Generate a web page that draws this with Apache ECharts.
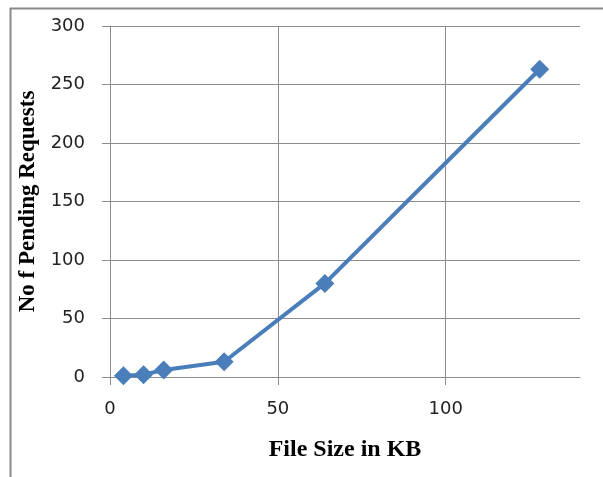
<!DOCTYPE html>
<html>
<head>
<meta charset="utf-8">
<script src="https://cdn.jsdelivr.net/npm/echarts@6/dist/echarts.min.js"></script>
<style>html,body{margin:0;padding:0;background:#fff;}#c{width:603px;height:477px;}</style>
</head>
<body>
<div id="c"></div>
<script>
var fileSizes = [4, 10, 16, 34, 64, 128];
var pending = [1, 2, 6, 13, 80, 263];
var xTicks = [0, 50, 100];
var xTitle = 'File Size in KB';
var yTitle = 'No f Pending Requests';

var chart = echarts.init(document.getElementById('c'), null, {renderer: 'canvas'});
var pts = fileSizes.map(function (x, i) { return [x, pending[i]]; });
var gridColor = '#8c8c8c';
chart.setOption({
  animation: false,
  backgroundColor: '#fff',
  graphic: [{
    type: 'rect', left: 8, top: 6,
    shape: {width: 620, height: 500},
    style: {fill: 'none', stroke: '#8a8a8a', lineWidth: 2}
  }],
  grid: {left: 110, right: 23, top: 26, bottom: 100},
  xAxis: {
    type: 'value', min: 0, max: 140, interval: 50,
    name: xTitle, nameLocation: 'middle', nameGap: 61,
    nameTextStyle: {fontFamily: 'Liberation Serif', fontWeight: 'bold', fontSize: 24, color: '#000'},
    axisLine: {show: true, lineStyle: {color: gridColor, width: 1}},
    axisTick: {show: true, length: 8, lineStyle: {color: gridColor}, customValues: xTicks},
    splitLine: {show: true, lineStyle: {color: gridColor, width: 1}},
    axisLabel: {margin: 23, fontFamily: 'DejaVu Sans', fontSize: 18, color: '#222', customValues: xTicks}
  },
  yAxis: {
    type: 'value', min: 0, max: 300, interval: 50,
    name: yTitle, nameLocation: 'middle', nameGap: 64, nameRotate: 90,
    nameTextStyle: {fontFamily: 'Liberation Serif', fontWeight: 'bold', fontSize: 23, color: '#000'},
    axisLine: {show: true, lineStyle: {color: gridColor, width: 1}},
    axisTick: {show: true, length: 8, lineStyle: {color: gridColor}},
    splitLine: {show: true, lineStyle: {color: gridColor, width: 1}},
    axisLabel: {margin: 25, fontFamily: 'DejaVu Sans', fontSize: 18, color: '#222'}
  },
  series: [{
    type: 'line', data: pts,
    symbol: 'diamond', symbolSize: 19,
    lineStyle: {color: '#4a7ebb', width: 4},
    itemStyle: {color: '#4a7ebb'}
  }]
});
</script>
</body>
</html>
